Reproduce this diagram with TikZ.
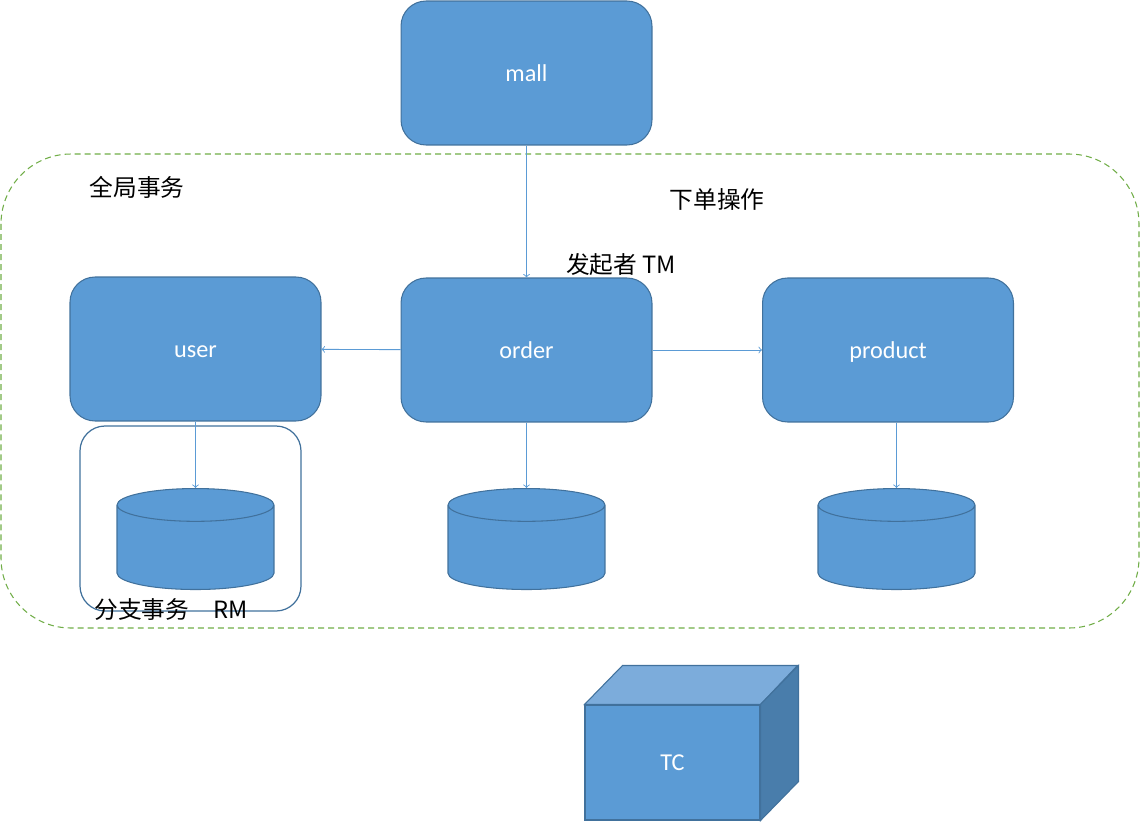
\documentclass[tikz,border=0pt]{standalone}
\usepackage{fontspec}
\setmainfont{Carlito}
\newfontfamily\cjk{Noto Sans CJK SC}
\usetikzlibrary{shapes.geometric}

\definecolor{boxfill}{HTML}{5B9BD5}
\definecolor{boxline}{HTML}{41719C}
\definecolor{groupgreen}{HTML}{70AD47}
\definecolor{cubetop}{HTML}{7CACDB}
\definecolor{cubeside}{HTML}{497DAB}

\tikzset{
  service/.style={rectangle, rounded corners=0.5cm, draw=boxline, fill=boxfill, line width=0.6pt,
    minimum width=5.02cm, minimum height=2.88cm, text=white, font=\fontsize{13.8}{16}\selectfont,
    text height=10pt, text depth=0pt},
  dbase/.style={cylinder, shape border rotate=90, aspect=2.8, draw=boxline, fill=boxfill, line width=0.6pt,
    minimum width=3.14cm, minimum height=2.02cm, anchor=top},
  call/.style={->, draw=boxfill, line width=0.5pt},
  tag/.style={font=\cjk\fontsize{13.5}{15}\selectfont, text=black},
}

\begin{document}
\begin{tikzpicture}[x=0.02cm,y=-0.02cm]
\useasboundingbox (0,0) rectangle (1140,822);
% global transaction
\draw[groupgreen, dashed, dash pattern=on 3.4pt off 2.3pt, line width=0.6pt, rounded corners=1.4cm] (1,154) rectangle (1139,628);
\draw[boxline, line width=0.7pt, rounded corners=0.5cm] (80,426) rectangle (301,611);
% services
\node[service] (mall) at (526.5,73) {mall};
\node[service] (order) at (526.5,350) {order};
\node[service] (user) at (195.5,349) {user};
\node[service] (product) at (888,350) {product};
% databases
\node[dbase] (userdb) at (195.5,488) {};
\node[dbase] (orderdb) at (526.5,488) {};
\node[dbase] (productdb) at (896.5,488) {};
% labels
\node[tag] (global) at (137,187) {全局事务};
\node[tag] (place) at (717,199) {下单操作};
\node[tag] (tm) at (621,265) {发起者 TM};
\node[tag] (rm) at (171,610) {分支事务\quad RM};
% calls
\draw[call] (mall) -- (order);
\draw[call] (order) -- (user);
\draw[call] (order) -- (product);
\draw[call] (user.south) -- (userdb.top);
\draw[call] (order.south) -- (orderdb.top);
\draw[call] (product.south -| productdb.top) -- (productdb.top);
% TC
\node[rectangle, draw=boxline, fill=boxfill, line width=0.6pt, minimum width=3.5cm, minimum height=2.3cm,
  text=white, font=\fontsize{13.8}{16}\selectfont] (tc) at (672.5,762.5) {TC};
\draw[boxline, fill=cubetop, line width=0.6pt] (tc.north west) -- ++(38,-39) -- ++(175,0) -- (tc.north east) -- cycle;
\draw[boxline, fill=cubeside, line width=0.6pt] (tc.north east) -- ++(38,-39) -- ++(0,116) -- (tc.south east) -- cycle;
\end{tikzpicture}
\end{document}
